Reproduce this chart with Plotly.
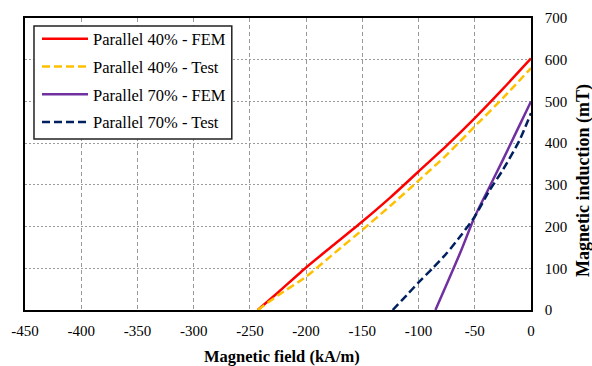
import plotly.graph_objects as go

# Data (H in kA/m, B in mT)
h_p40_fem = [-243, -225, -200, -175, -150, -125, -100, -75, -50, -25, 0]
b_p40_fem = [0, 42, 102, 157, 212, 270, 332, 394, 460, 530, 603]

h_p40_test = [-243, -225, -200, -175, -150, -125, -100, -75, -50, -25, 0]
b_p40_test = [0, 35, 80, 136, 192, 250, 310, 372, 440, 508, 580]

h_p70_fem = [-85, -75, -62.5, -50, -37.5, -25, -12.5, 0]
b_p70_fem = [0, 62, 140, 224, 292, 360, 430, 500]

h_p70_test = [-123, -110, -100, -87.5, -75, -62.5, -50, -37.5, -25, -10, 0]
b_p70_test = [0, 37, 66, 100, 136, 178, 224, 284, 336, 408, 472]

x_ticks = [-450, -400, -350, -300, -250, -200, -150, -100, -50, 0]
y_ticks = [0, 100, 200, 300, 400, 500, 600, 700]

FONT = "Liberation Serif, Times New Roman, serif"

fig = go.Figure()
series = [
    ("Parallel 40% - FEM", h_p40_fem, b_p40_fem, "#FF0000", "solid"),
    ("Parallel 40% - Test", h_p40_test, b_p40_test, "#FFC000", "8px,4px"),
    ("Parallel 70% - FEM", h_p70_fem, b_p70_fem, "#7030A0", "solid"),
    ("Parallel 70% - Test", h_p70_test, b_p70_test, "#002060", "8px,4px"),
]
for i, (name, xs, ys, col, dash) in enumerate(series):
    fig.add_trace(go.Scatter(
        x=xs, y=ys, mode="lines", name=name, legendgroup=f"g{i}",
        line=dict(color=col, width=2.5, dash=dash, shape="spline", smoothing=0.6),
    ))

L, R, T, B = 25, 531.5, 18, 310
PW, PH = R - L, B - T


def px_x(p):
    return (p - L) / PW


def px_y(p):
    return 1 - (p - T) / PH


fig.update_layout(
    template="none",
    width=592, height=366,
    margin=dict(l=L, r=592 - R, t=T, b=366 - B, autoexpand=False),
    paper_bgcolor="white", plot_bgcolor="white",
    font=dict(family=FONT, size=15, color="black"),
    showlegend=True,
    legend=dict(
        x=px_x(37), y=px_y(21.5), xanchor="left", yanchor="top",
        bgcolor="rgba(0,0,0,0)", borderwidth=0,
        font=dict(family=FONT, size=16.5, color="black"),
        traceorder="grouped", tracegroupgap=3.3, itemwidth=46,
    ),
    shapes=[
        dict(type="rect", xref="paper", yref="paper",
             x0=px_x(34), x1=px_x(232), y0=px_y(139), y1=px_y(26),
             fillcolor="white", line=dict(color="#222222", width=1.5), layer="above"),
    ],
    xaxis=dict(
        range=[-450, 0], tickvals=x_ticks, ticktext=[str(v) for v in x_ticks],
        showgrid=True, gridcolor="#9a9a9a", gridwidth=1, griddash="4px,3px",
        showline=True, linecolor="black", linewidth=1.5, mirror=True,
        ticks="outside", ticklen=6, tickcolor="rgba(0,0,0,0)",
        zeroline=False, tickfont=dict(size=15), automargin=False,
    ),
    yaxis=dict(
        range=[0, 700], tickvals=y_ticks, side="right",
        showgrid=True, gridcolor="#9a9a9a", gridwidth=1, griddash="2px,2px",
        showline=True, linecolor="black", linewidth=1.5, mirror=True,
        ticks="outside", ticklen=9, tickcolor="rgba(0,0,0,0)",
        zeroline=False, tickfont=dict(size=15), automargin=False,
    ),
    annotations=[
        dict(text="<b>Magnetic field (kA/m)</b>", xref="paper", yref="paper",
             x=px_x(282.5), y=px_y(356), xanchor="center", yanchor="middle",
             showarrow=False, font=dict(family=FONT, size=16.5, color="black")),
        dict(text="<b>Magnetic induction (mT)</b>", xref="paper", yref="paper",
             x=px_x(584), y=px_y(180.5), xanchor="center", yanchor="middle",
             textangle=-90, showarrow=False, font=dict(family=FONT, size=18, color="black")),
    ],
)

fig.write_html(
    "out.html",
    config={"displayModeBar": False},
    post_script="document.body.style.margin='0';document.body.style.padding='0';",
)
